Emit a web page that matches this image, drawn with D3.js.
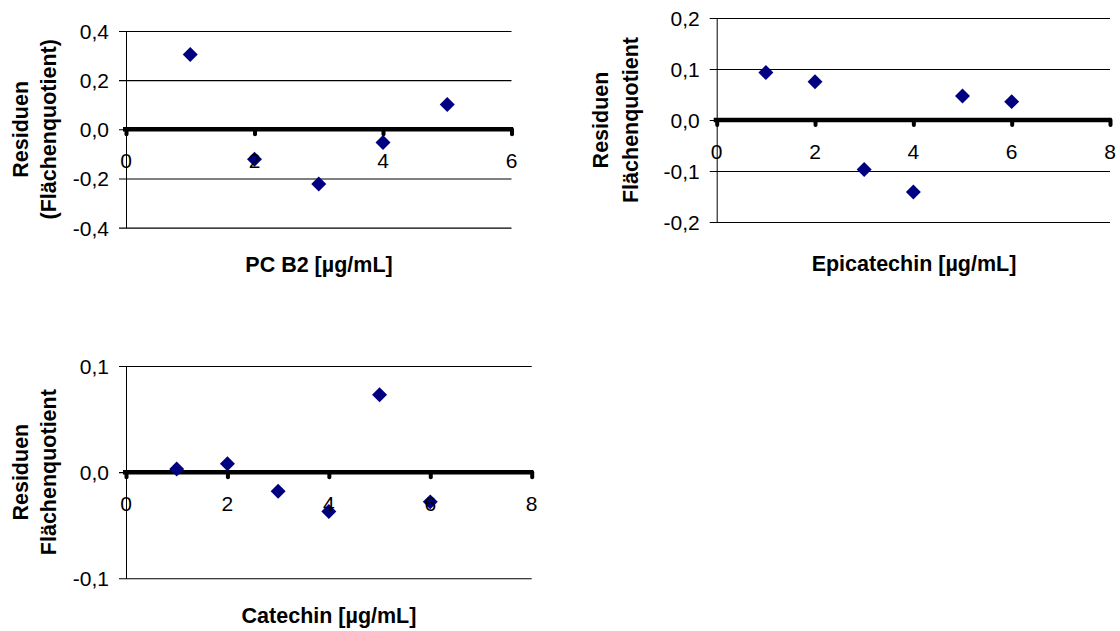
<!DOCTYPE html>
<html>
<head>
<meta charset="utf-8">
<script src="https://cdn.jsdelivr.net/npm/d3@7/dist/d3.min.js"></script>
<style>
  html, body { margin: 0; padding: 0; background: #fff; }
  svg { display: block; }
  text { font-family: "Liberation Sans", Arial, sans-serif; fill: #000; }
</style>
</head>
<body>
<svg id="chart" width="1120" height="631"></svg>
<script>
// ---- data ----
const pcb2X = [1, 2, 3, 4, 5];
const pcb2Y = [0.304, -0.122, -0.223, -0.054, 0.101];
const pcb2XTicks = [0, 2, 4, 6];
const pcb2YTicks = [-0.4, -0.2, 0.0, 0.2, 0.4];

const epiX = [1, 2, 3, 4, 5, 6];
const epiY = [0.093, 0.075, -0.097, -0.141, 0.047, 0.036];
const epiXTicks = [0, 2, 4, 6, 8];
const epiYTicks = [-0.2, -0.1, 0.0, 0.1, 0.2];

const catX = [1, 2, 3, 4, 5, 6];
const catY = [0.003, 0.008, -0.018, -0.037, 0.073, -0.028];
const catXTicks = [0, 2, 4, 6, 8];
const catYTicks = [-0.1, 0.0, 0.1];

const xTitles = ["PC B2 [µg/mL]", "Epicatechin [µg/mL]", "Catechin [µg/mL]"];
const yTitles = [["Residuen", "(Flächenquotient)"], ["Residuen", "Flächenquotient"], ["Residuen", "Flächenquotient"]];

// ---- layout ----
const panels = [
  { xs: pcb2X, ys: pcb2Y, xt: pcb2XTicks, yt: pcb2YTicks, xr: [126, 511.5], yr: [227.6, 31], yl: [20.5, 49], xtc: 319, xty: 265, title: 0 },
  { xs: epiX, ys: epiY, xt: epiXTicks, yt: epiYTicks, xr: [716.7, 1110], yr: [222, 18], yl: [601, 631], xtc: 914, xty: 264, title: 1 },
  { xs: catX, ys: catY, xt: catXTicks, yt: catYTicks, xr: [126, 531.7], yr: [578.3, 366], yl: [21, 48.5], xtc: 329, xty: 616, title: 2 }
];

const loc = d3.formatLocale({ decimal: ",", thousands: ".", grouping: [3], currency: ["", ""], minus: "-" });
const fmt = loc.format(".1f");
const svg = d3.select("#chart");
const FS = 21;
const TFS = 21.5;

panels.forEach(p => {
  const xMax = p.xt[p.xt.length - 1];
  const x = d3.scaleLinear().domain([0, xMax]).range(p.xr);
  const y = d3.scaleLinear().domain([p.yt[0], p.yt[p.yt.length - 1]]).range(p.yr);
  const w = p.xr[1] - p.xr[0];
  const g = svg.append("g");

  // y axis with gridlines
  const ya = g.append("g")
    .attr("transform", `translate(${p.xr[0]},0)`)
    .call(d3.axisLeft(y).tickValues(p.yt).tickSizeInner(-w).tickSizeOuter(0).tickFormat(fmt));
  ya.select(".domain").attr("stroke", "#000").attr("stroke-width", 1);
  ya.selectAll(".tick line").attr("x1", -7).attr("x2", w).attr("stroke", "#000").attr("stroke-width", 1.1);
  ya.selectAll(".tick text")
    .attr("x", -17).attr("dy", null).attr("dominant-baseline", "central")
    .style("font-size", FS + "px").style("font-family", '"Liberation Sans", Arial, sans-serif').attr("fill", "#000");

  // x axis (thick zero line)
  const xa = g.append("g")
    .attr("transform", `translate(0,${y(0)})`)
    .call(d3.axisBottom(x).tickValues(p.xt).tickSize(5).tickSizeOuter(0).tickFormat(d3.format("d")));
  xa.select(".domain").attr("stroke", "#000").attr("stroke-width", 4.5)
    .attr("d", `M${p.xr[0] - 3},0H${p.xr[1] + 1.5}`);
  xa.selectAll(".tick line").attr("stroke", "#000").attr("stroke-width", 4).attr("stroke-linecap", "round")
    .attr("y1", 0).attr("y2", 5);
  xa.selectAll(".tick text").remove();

  // points
  const diamond = d3.symbol().type(d3.symbolSquare).size(112);
  g.append("g").selectAll("path")
    .data(p.xs.map((v, i) => [v, p.ys[i]]))
    .join("path")
    .attr("d", diamond)
    .attr("transform", d => `translate(${x(d[0])},${y(d[1])}) rotate(45)`)
    .attr("fill", "#000080");

  // x tick labels drawn on top of the markers
  g.append("g").selectAll("text")
    .data(p.xt)
    .join("text")
    .attr("x", d => x(d))
    .attr("y", y(0) + 31)
    .attr("text-anchor", "middle")
    .attr("dominant-baseline", "central")
    .style("font-size", FS + "px")
    .text(d => d3.format("d")(d));

  // x title
  g.append("text")
    .attr("x", p.xtc).attr("y", p.xty)
    .attr("text-anchor", "middle").attr("dominant-baseline", "central")
    .style("font-size", TFS + "px").style("font-weight", "bold")
    .text(xTitles[p.title]);

  // y title (two lines)
  const yc = (p.yr[0] + p.yr[1]) / 2;
  yTitles[p.title].forEach((t, i) => {
    g.append("text")
      .attr("transform", `translate(${p.yl[i]},${yc}) rotate(-90)`)
      .attr("text-anchor", "middle").attr("dominant-baseline", "central")
      .style("font-size", TFS + "px").style("font-weight", "bold")
      .text(t);
  });
});
</script>
</body>
</html>
